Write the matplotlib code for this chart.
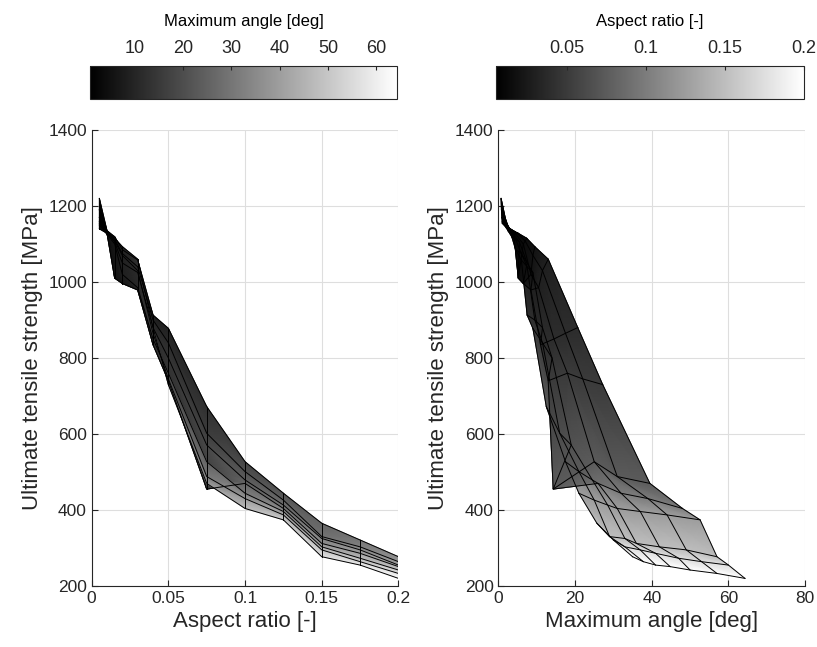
import numpy as np
import matplotlib
matplotlib.use('Agg')
import matplotlib.pyplot as plt

plt.rcParams['font.family'] = ['Liberation Sans', 'DejaVu Sans']

# aspect ratio of each grid column
aspect_ratio = [0.005, 0.01, 0.015, 0.02, 0.03, 0.04, 0.05, 0.075, 0.1, 0.125, 0.15, 0.175, 0.2]

# ultimate tensile strength [MPa], one row per geometry series (top -> bottom)
uts_mpa = [
    [1220, 1135, 1119, 1085, 1058, 913, 878, 672, 527, 444, 365, 321, 277],
    [1190, 1133, 1112, 1075, 1040, 900, 840, 602, 501, 426, 330, 303, 264],
    [1170, 1131, 1105, 1050, 1025, 880, 800, 571, 479, 413, 325, 295, 255],
    [1160, 1128, 1010,  996,  979, 835, 740, 455, 470, 404, 312, 286, 251],
    [1155, 1126, 1100, 1020,  985, 850, 760, 527, 444, 396, 303, 273, 242],
    [1150, 1128, 1108, 1070, 1030, 865, 745, 488, 430, 387, 295, 264, 233],
    [1140, 1128, 1115, 1093, 1060, 880, 730, 470, 404, 374, 277, 255, 220],
]

# maximum angle [deg] for the same grid
max_angle_deg = [
    [0.7, 2.5, 3.5, 4.5,  6.0,  7.5,  9.0, 12.5, 17.5, 21.0, 25.7, 30.0, 35.0],
    [0.8, 3.0, 4.5, 6.0,  7.5,  9.5, 11.5, 16.0, 21.0, 25.0, 29.0, 33.0, 37.8],
    [0.9, 3.5, 5.5, 7.5,  9.0, 11.5, 14.0, 19.0, 24.5, 28.5, 33.0, 37.0, 41.0],
    [1.0, 4.0, 5.2, 6.5,  8.5, 11.0, 13.0, 14.3, 26.0, 31.0, 36.0, 41.0, 44.8],
    [1.0, 4.5, 6.5, 8.5, 10.5, 14.5, 18.0, 25.0, 32.0, 37.0, 42.0, 47.0, 50.0],
    [1.5, 5.0, 7.0, 9.0, 11.5, 17.5, 22.0, 31.0, 39.0, 44.0, 49.0, 53.0, 57.0],
    [2.2, 5.2, 7.4, 9.5, 13.0, 20.7, 27.2, 39.5, 48.0, 52.6, 57.0, 60.0, 64.3],
]

GRID_C = '#dedede'
AX_C = '#262626'

ar = np.array(aspect_ratio)
uts = np.array(uts_mpa, dtype=float)
ang = np.array(max_angle_deg)
ar_grid = np.tile(ar, (uts.shape[0], 1))


def style_axes(ax):
    ax.grid(True, color=GRID_C, linewidth=0.8)
    ax.set_axisbelow(True)
    for s in ['top', 'right']:
        ax.spines[s].set_visible(False)
    for s in ['left', 'bottom']:
        ax.spines[s].set_color(AX_C)
        ax.spines[s].set_linewidth(0.8)
    ax.tick_params(direction='in', length=4, labelsize=12.5, colors=AX_C)


def draw_mesh(ax, X, Y, C, vmin, vmax):
    m = ax.pcolormesh(X, Y, C, shading='gouraud', cmap='gray', vmin=vmin, vmax=vmax,
                      zorder=2)
    # mesh edges, like MATLAB's faceted surf
    for i in range(X.shape[0]):
        ax.plot(X[i], Y[i], color='k', lw=0.7, zorder=3)
    for j in range(X.shape[1]):
        ax.plot(X[:, j], Y[:, j], color='k', lw=0.7, zorder=3)
    return m


def add_cbar(fig, m, rect, label, ticks, ticklabels):
    cax = fig.add_axes(rect)
    cb = fig.colorbar(m, cax=cax, orientation='horizontal')
    cb.set_ticks(ticks)
    cb.set_ticklabels(ticklabels)
    cax.xaxis.set_ticks_position('top')
    cax.xaxis.set_label_position('top')
    cax.tick_params(direction='in', length=3, pad=6, labelsize=13, colors=AX_C)
    cb.outline.set_edgecolor(AX_C)
    cb.outline.set_linewidth(0.8)
    cb.set_label(label, fontsize=12, color='k', labelpad=10)


fig = plt.figure(figsize=(8.17, 6.47), dpi=100)

ax1 = fig.add_axes([0.1122, 0.0943, 0.3755, 0.7048])
m1 = draw_mesh(ax1, ar_grid, uts, ang, ang.min(), ang.max())
ax1.set_xlim(0, 0.2)
ax1.set_ylim(200, 1400)
ax1.set_xticks([0, 0.05, 0.1, 0.15, 0.2])
ax1.set_xticklabels(['0', '0.05', '0.1', '0.15', '0.2'])
ax1.set_yticks(range(200, 1401, 200))
ax1.set_xlabel('Aspect ratio [-]', fontsize=16, color=AX_C)
ax1.set_ylabel('Ultimate tensile strength [MPa]', fontsize=16, color=AX_C)
style_axes(ax1)

ax2 = fig.add_axes([0.6100, 0.0943, 0.3755, 0.7048])
m2 = draw_mesh(ax2, ang, uts, ar_grid, 0.005, 0.2)
ax2.set_xlim(0, 80)
ax2.set_ylim(200, 1400)
ax2.set_xticks([0, 20, 40, 60, 80])
ax2.set_yticks(range(200, 1401, 200))
ax2.set_xlabel('Maximum angle [deg]', fontsize=16, color=AX_C)
ax2.set_ylabel('Ultimate tensile strength [MPa]', fontsize=16, color=AX_C)
style_axes(ax2)

add_cbar(fig, m1, [0.110, 0.847, 0.376, 0.0515], 'Maximum angle [deg]',
         [10, 20, 30, 40, 50, 60], ['10', '20', '30', '40', '50', '60'])
add_cbar(fig, m2, [0.607, 0.847, 0.377, 0.0515], 'Aspect ratio [-]',
         [0.05, 0.1, 0.15, 0.2], ['0.05', '0.1', '0.15', '0.2'])

fig.savefig('out.png', dpi=100)
